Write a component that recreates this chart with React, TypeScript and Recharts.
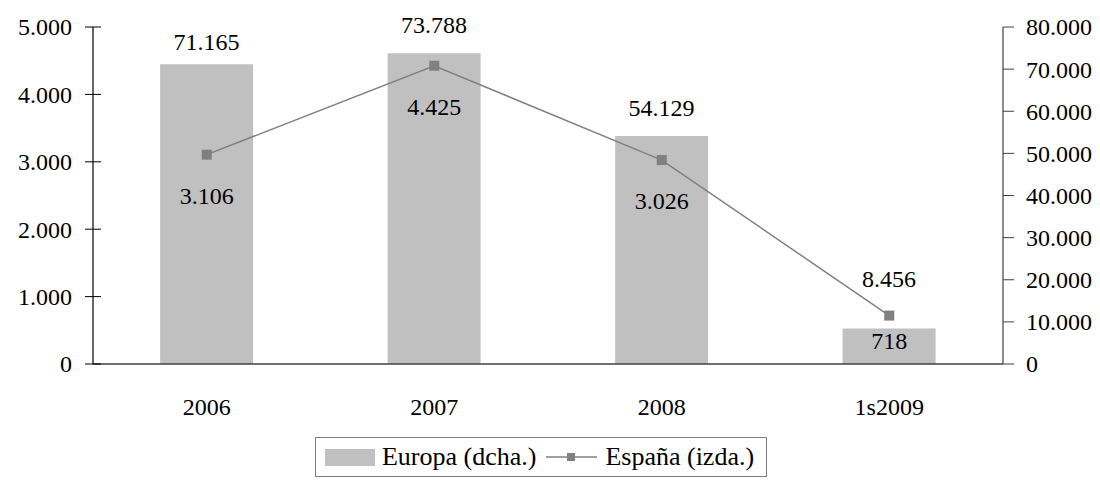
import { ComposedChart, Bar, Line, XAxis, YAxis, Legend, LabelList } from 'recharts';

const periods = ['2006', '2007', '2008', '1s2009'];
const europa = [71165, 73788, 54129, 8456];
const espana = [3106, 4425, 3026, 718];
const leftTicks = [0, 1000, 2000, 3000, 4000, 5000];
const rightTicks = [0, 10000, 20000, 30000, 40000, 50000, 60000, 70000, 80000];
const bandEdges = [0, 1, 2, 3, 4];

const data = periods.map((p, i) => ({ period: p, europa: europa[i], espana: espana[i] }));

const FONT = '"Liberation Serif", "Times New Roman", Times, Tinos, "Noto Serif", "DejaVu Serif", serif';
const FONT_SIZE = 24;
// label distances from their marks, tuned per point
const EUROPA_LABEL_OFFSET = [14, 20, 20, 41];
const ESPANA_LABEL_OFFSET = [32, 32, 32, 16];

const fmt = (v: number) => String(v).replace(/\B(?=(\d{3})+(?!\d))/g, '.');

// left axis: tick marks cross the axis line
const LeftTick = (props: any) => {
  const { x, y, payload } = props;
  return (
    <g>
      <line x1={x - 8} x2={x + 8} y1={y} y2={y} stroke="#000" strokeWidth={1} />
      <text x={x - 21} y={y} dy="0.35em" textAnchor="end" style={{ fontFamily: FONT, fontSize: FONT_SIZE }} fill="#000">
        {fmt(payload.value)}
      </text>
    </g>
  );
};

const RightTick = (props: any) => {
  const { x, y, payload } = props;
  return (
    <text x={x} y={y} dy="0.35em" textAnchor="start" style={{ fontFamily: FONT, fontSize: FONT_SIZE }} fill="#000">
      {fmt(payload.value)}
    </text>
  );
};

const PeriodTick = (props: any) => {
  const { x, y, payload } = props;
  return (
    <text x={x} y={y} dy="0.72em" textAnchor="middle" style={{ fontFamily: FONT, fontSize: FONT_SIZE }} fill="#000">
      {payload.value}
    </text>
  );
};

// category boundaries on the x axis
const EdgeTick = (props: any) => {
  const { x, y } = props;
  return <line x1={x} x2={x} y1={y - 9} y2={y + 9} stroke="#404040" strokeWidth={1} />;
};

const SquareDot = (props: any) => {
  const { cx, cy, index } = props;
  return <rect key={`dot-${index}`} x={cx - 5} y={cy - 5} width={10} height={10} fill="#808080" />;
};

const EuropaLabel = (props: any) => {
  const { x, y, width, value, index } = props;
  return (
    <text
      x={x + width / 2}
      y={y - EUROPA_LABEL_OFFSET[index]}
      textAnchor="middle"
      style={{ fontFamily: FONT, fontSize: FONT_SIZE }}
      fill="#000"
    >
      {fmt(value)}
    </text>
  );
};

const EspanaLabel = (props: any) => {
  const { x, y, value, index } = props;
  return (
    <text
      x={x}
      y={y + ESPANA_LABEL_OFFSET[index]}
      dy="0.72em"
      textAnchor="middle"
      style={{ fontFamily: FONT, fontSize: FONT_SIZE }}
      fill="#000"
    >
      {fmt(value)}
    </text>
  );
};

const LegendBox = (props: any) => {
  const payload = [...(props.payload || [])].sort((a: any, b: any) =>
    a.type === 'rect' ? -1 : b.type === 'rect' ? 1 : 0,
  );
  return (
    <div style={{ display: 'flex', justifyContent: 'center', transform: 'translateX(-9px)' }}>
      <div
        style={{
          display: 'flex',
          alignItems: 'center',
          height: 38,
          padding: '0 2px 0 9px',
          border: '1px solid #808080',
          fontFamily: FONT,
          fontSize: 26,
          color: '#000',
        }}
      >
        {payload.map((entry: any) => (
          <div key={entry.value} style={{ display: 'flex', alignItems: 'center', marginRight: 10 }}>
            {entry.type === 'rect' ? (
              <span style={{ display: 'inline-block', width: 50, height: 17, background: '#c0c0c0', marginRight: 7 }} />
            ) : (
              <svg width={51} height={12} style={{ marginRight: 8 }}>
                <line x1={0} x2={51} y1={6} y2={6} stroke="#808080" strokeWidth={1.5} />
                <rect x={21} y={2} width={8} height={8} fill="#808080" />
              </svg>
            )}
            <span>{entry.value}</span>
          </div>
        ))}
      </div>
    </div>
  );
};

export default function App() {
  return (
    <div style={{ position: 'absolute', left: 0, top: 0 }}>
      <ComposedChart
        width={1100}
        height={480}
        data={data}
        margin={{ top: 27, right: 0, bottom: 3, left: 0 }}
        barCategoryGap="29.5%"
      >
        <XAxis
          xAxisId="edges"
          type="number"
          domain={[0, 4]}
          ticks={bandEdges}
          height={0}
          axisLine={false}
          tickLine={false}
          tickSize={0}
          tickMargin={0}
          tick={EdgeTick}
          allowDataOverflow
        />
        <XAxis
          dataKey="period"
          height={73}
          axisLine={{ stroke: '#404040', strokeWidth: 1.5 }}
          tickLine={false}
          tickSize={0}
          tickMargin={34}
          tick={PeriodTick}
        />
        <YAxis
          yAxisId="left"
          orientation="left"
          width={93}
          domain={[0, 5000]}
          ticks={leftTicks}
          axisLine={{ stroke: '#000', strokeWidth: 1.2 }}
          tickLine={false}
          tickSize={0}
          tickMargin={0}
          tick={LeftTick}
          interval={0}
        />
        <YAxis
          yAxisId="right"
          orientation="right"
          width={97}
          domain={[0, 80000]}
          ticks={rightTicks}
          axisLine={{ stroke: '#404040', strokeWidth: 1.2 }}
          tickLine={{ stroke: '#404040' }}
          tickSize={11}
          tickMargin={12}
          tick={RightTick}
          interval={0}
        />
        <Legend verticalAlign="bottom" height={40} content={LegendBox} />
        <Bar yAxisId="right" dataKey="europa" name="Europa (dcha.)" fill="#c0c0c0" legendType="rect" isAnimationActive={false}>
          <LabelList dataKey="europa" content={EuropaLabel} />
        </Bar>
        <Line
          yAxisId="left"
          dataKey="espana"
          name="España (izda.)"
          stroke="#808080"
          strokeWidth={1.5}
          dot={SquareDot}
          activeDot={false}
          legendType="square"
          isAnimationActive={false}
        >
          <LabelList dataKey="espana" content={EspanaLabel} />
        </Line>
      </ComposedChart>
    </div>
  );
}
